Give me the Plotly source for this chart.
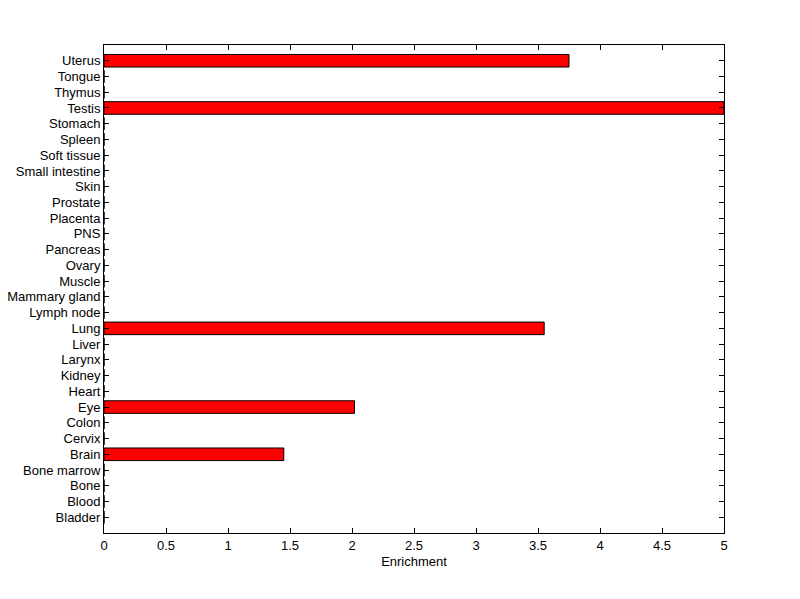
import plotly.graph_objects as go

tissues = ["Bladder", "Blood", "Bone", "Bone marrow", "Brain", "Cervix", "Colon", "Eye",
           "Heart", "Kidney", "Larynx", "Liver", "Lung", "Lymph node", "Mammary gland",
           "Muscle", "Ovary", "Pancreas", "PNS", "Placenta", "Prostate", "Skin",
           "Small intestine", "Soft tissue", "Spleen", "Stomach", "Testis", "Thymus",
           "Tongue", "Uterus"]
enrichment = [0, 0, 0, 0, 1.45, 0, 0, 2.02,
              0, 0, 0, 0, 3.55, 0, 0,
              0, 0, 0, 0, 0, 0, 0,
              0, 0, 0, 0, 5.0, 0,
              0, 3.75]
x_ticks = [0, 0.5, 1, 1.5, 2, 2.5, 3, 3.5, 4, 4.5, 5]

pos = list(range(1, len(tissues) + 1))

fig = go.Figure()
fig.add_trace(go.Bar(
    x=enrichment, y=pos, orientation="h", width=0.8,
    marker=dict(color="#ff0000", line=dict(color="black", width=1)),
))

fig.update_layout(
    width=800, height=599,
    margin=dict(l=104, r=76, t=45, b=66),
    paper_bgcolor="white", plot_bgcolor="white",
    font=dict(family="Liberation Sans, Arial, sans-serif", size=13, color="black"),
    showlegend=False,
    xaxis=dict(
        range=[0, 5], tickvals=x_ticks, ticktext=[f"{v:g}" for v in x_ticks],
        ticks="inside", ticklen=5, tickcolor="black", tickwidth=1,
        showline=True, linecolor="black", linewidth=1, mirror="ticks",
        showgrid=False, zeroline=False, automargin=False,
        title=dict(text="Enrichment", standoff=5, font=dict(size=13)),
    ),
    yaxis=dict(
        range=[0, 31], tickvals=pos, ticktext=tissues,
        ticks="inside", ticklen=5, tickcolor="black", tickwidth=1,
        showline=True, linecolor="black", linewidth=1, mirror="ticks",
        showgrid=False, zeroline=False, automargin=False,
    ),
)

fig.write_html("out.html", config={"displayModeBar": False},
               post_script="document.body.style.margin='0';")
